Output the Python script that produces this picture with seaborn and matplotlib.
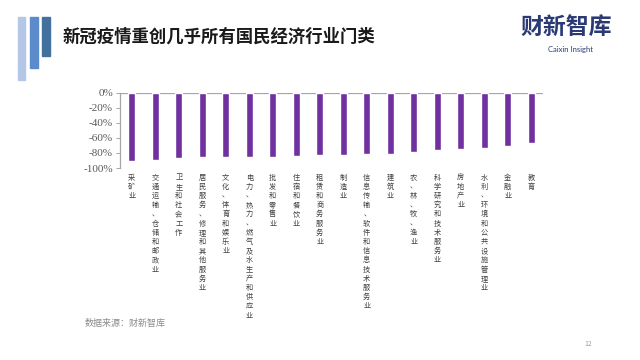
import matplotlib
matplotlib.use('Agg')
import matplotlib.pyplot as plt
import matplotlib.patches as mpatches
import seaborn as sns
import pandas as pd

# 行业门类及降幅
categories = ['采矿业', '交通运输、仓储和邮政业', '卫生和社会工作', '居民服务、修理和其他服务业',
              '文化、体育和娱乐业', '电力、热力、燃气及水生产和供应业', '批发和零售业', '住宿和餐饮业',
              '租赁和商务服务业', '制造业', '信息传输、软件和信息技术服务业', '建筑业',
              '农、林、牧、渔业', '科学研究和技术服务业', '房地产业', '水利、环境和公共设施管理业',
              '金融业', '教育']
values = [-0.913, -0.89, -0.868, -0.855, -0.85, -0.85, -0.85, -0.84, -0.824, -0.824,
          -0.81, -0.81, -0.784, -0.767, -0.754, -0.74, -0.714, -0.674]
yticks = [0, -0.2, -0.4, -0.6, -0.8, -1.0]
ytick_labels = ['0%', '-20%', '-40%', '-60%', '-80%', '-100%']

df = pd.DataFrame({'industry': categories, 'change': values})

sns.set_theme(style='white')
plt.rcParams['font.family'] = ['Noto Sans CJK SC', 'DejaVu Sans']

fig = plt.figure(figsize=(6.4, 3.6), dpi=100)
fig.patch.set_facecolor('white')

# 左上角装饰条
for x0, y1, c in [(17.7, 80, '#b4c7e7'), (30, 68, '#5b8bcb'), (42, 56, '#41719c')]:
    fig.patches.append(mpatches.Rectangle((x0 / 640, 1 - y1 / 360), 7.5 / 640, (y1 - 17) / 360,
                                          transform=fig.transFigure, color=c, zorder=1))

fig.text(63 / 640, 1 - 37 / 360, '新冠疫情重创几乎所有国民经济行业门类', fontsize=12.5,
         fontweight='bold', color='#1a1a1a', va='center', ha='left')
fig.text(566 / 640, 1 - 27 / 360, '财新智库', fontsize=16.5, fontweight='bold',
         color='#2b3a75', va='center', ha='center')
fig.text(570 / 640, 1 - 49.5 / 360, 'Caixin Insight', fontsize=5.5, color='#2b3a75',
         va='center', ha='center', family=['Lato', 'DejaVu Sans'])
fig.text(85 / 640, 1 - 323 / 360, '数据来源：财新智库', fontsize=6.5, color='#8c8c8c',
         va='center', ha='left')
fig.text(588 / 640, 1 - 344 / 360, '12', fontsize=5, color='#a0a0a0', va='center', ha='center')

ax = fig.add_axes([120 / 640, 1 - 168 / 360, 423 / 640, 75.5 / 360])
sns.barplot(data=df, x='industry', y='change', color='#70309f', width=0.31,
            saturation=1, ax=ax)
ax.set_xlim(-0.5, len(categories) - 0.5)
ax.set_ylim(-1.0, 0)
ax.axhline(0, color='#a6a6a6', lw=0.9, zorder=0)

ax.set_yticks(yticks)
ax.set_yticklabels(ytick_labels, family=['Liberation Serif', 'DejaVu Serif'], fontsize=8,
                   color='#595959')
ax.set_xticks(range(len(categories)))
ax.set_xticklabels(['\n'.join(c) for c in categories], fontsize=5.2, color='#404040',
                   va='top', linespacing=1.2)
ax.tick_params(axis='x', length=0, pad=4)
ax.tick_params(axis='y', length=3, width=0.7, color='#a6a6a6', left=True, pad=2)
ax.set_xlabel('')
ax.set_ylabel('')
for s in ['top', 'right', 'bottom']:
    ax.spines[s].set_visible(False)
ax.spines['left'].set_color('#a6a6a6')
ax.spines['left'].set_linewidth(0.9)
ax.set_facecolor('none')

fig.savefig('out.png', dpi=100)
